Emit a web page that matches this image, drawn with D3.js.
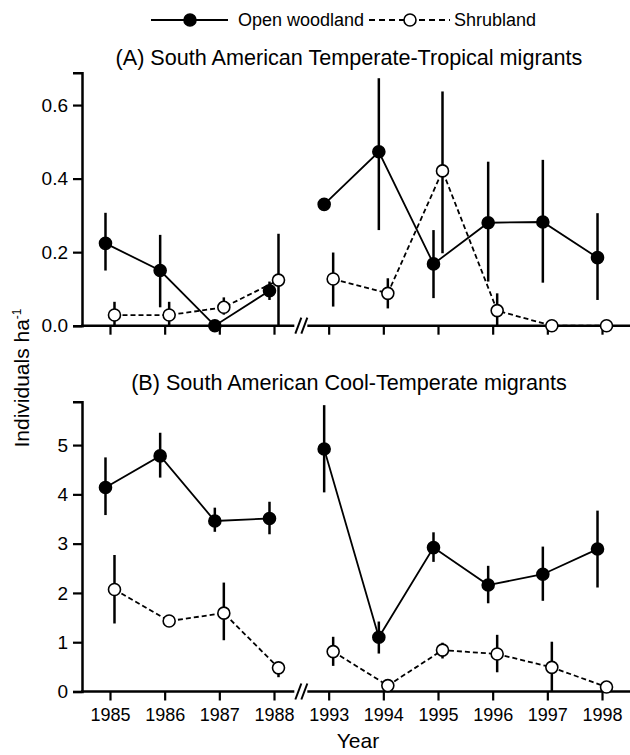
<!DOCTYPE html>
<html><head><meta charset="utf-8">
<script src="https://cdn.jsdelivr.net/npm/d3@7"></script>
<style>body{margin:0;background:#fff}svg{display:block}text{font-family:"Liberation Sans",Arial,sans-serif;fill:#000}</style>
</head><body><svg id="c" width="630" height="755"></svg>
<script>
const years = ["1985","1986","1987","1988","1993","1994","1995","1996","1997","1998"];
const seriesNames = ["Open woodland","Shrubland"];
const titles = ["(A) South American Temperate-Tropical migrants","(B) South American Cool-Temperate migrants"];
const ticksA = [0,0.2,0.4,0.6];
const ticksB = [0,1,2,3,4,5];

const A_wood    = [0.224,0.150,0.000,0.095,0.330,0.473,0.168,0.280,0.282,0.185];
const A_wood_lo = [0.150,0.050,null ,0.070,null ,0.260,0.075,0.120,0.117,0.070];
const A_wood_hi = [0.307,0.247,null ,0.120,null ,0.673,0.260,0.446,0.451,0.306];
const A_shrub    = [0.029,0.029,0.050,0.124,0.127,0.088,0.421,0.041,0.000,0.000];
const A_shrub_lo = [0.000,0.000,0.030,0.000,0.052,0.047,0.197,0.000,null ,null ];
const A_shrub_hi = [0.065,0.065,0.077,0.250,0.199,0.129,0.637,0.088,null ,null ];

const B_wood    = [4.14,4.78,3.46,3.51,4.92,1.10,2.92,2.16,2.38,2.89];
const B_wood_lo = [3.58,4.34,3.24,3.19,4.04,0.77,2.63,1.79,1.84,2.11];
const B_wood_hi = [4.75,5.25,3.73,3.85,5.81,1.42,3.23,2.55,2.94,3.67];
const B_shrub    = [2.07,1.43,1.59,0.48,0.81,0.12,0.84,0.76,0.49,0.09];
const B_shrub_lo = [1.38,1.38,1.04,0.29,0.52,null,0.67,0.39,0.00,null];
const B_shrub_hi = [2.77,1.50,2.21,0.59,1.11,null,0.99,1.15,1.01,null];

const svg = d3.select("#c");
const x = d3.scalePoint().domain(years).range([82,630]).padding(0.512);
const leftYears = years.slice(0,4), rightYears = years.slice(4);

const panels = [
  {top:72.7, bottom:325.7, max:0.688, ticks:ticksA, fmt:d3.format(".1f"), title:titles[0], titleY:65, labels:false,
   wood:A_wood, woodLo:A_wood_lo, woodHi:A_wood_hi, shrub:A_shrub, shrubLo:A_shrub_lo, shrubHi:A_shrub_hi},
  {top:401.7, bottom:691.5, max:5.88, ticks:ticksB, fmt:d3.format("d"), title:titles[1], titleY:390, labels:true,
   wood:B_wood, woodLo:B_wood_lo, woodHi:B_wood_hi, shrub:B_shrub, shrubLo:B_shrub_lo, shrubHi:B_shrub_hi}
];

const OFF = {wood:-4.5, shrub:4.5};
const R = 6;

panels.forEach(p => {
  const y = d3.scaleLinear().domain([0,p.max]).range([p.bottom,p.top]);
  const g = svg.append("g");
  g.append("text").attr("x",349).attr("y",p.titleY).attr("text-anchor","middle")
    .style("font-size","21.6px").text(p.title);
  const ya = g.append("g").attr("transform","translate(82,0)")
    .call(d3.axisLeft(y).tickValues(p.ticks).tickFormat(p.fmt).tickSizeOuter(0).tickSize(9).tickPadding(5));
  ya.select(".domain").attr("stroke-width",2.5).attr("stroke","#000");
  ya.selectAll(".tick line").attr("stroke-width",2.2);
  ya.selectAll(".tick text").style("font-size","19px").style("font-family","Liberation Sans, Arial, sans-serif");
  const xa = g.append("g").attr("transform",`translate(0,${p.bottom})`)
    .call(d3.axisBottom(x).tickSize(9).tickSizeOuter(0).tickPadding(8));
  xa.select(".domain").remove();
  xa.selectAll(".tick line").attr("stroke-width",2.2);
  xa.selectAll(".tick text").style("font-size","18px").style("font-family","Liberation Sans, Arial, sans-serif")
    .style("display", p.labels ? null : "none");
  const brk = (x(years[3]) + x(years[4]))/2;
  g.append("line").attr("x1",81).attr("x2",brk-7).attr("y1",p.bottom).attr("y2",p.bottom).attr("stroke","#000").attr("stroke-width",2.5);
  g.append("line").attr("x1",brk+6).attr("x2",630).attr("y1",p.bottom).attr("y2",p.bottom).attr("stroke","#000").attr("stroke-width",2.5);
  [-3,3].forEach(d => {
    g.append("line").attr("x1",brk+d-3).attr("x2",brk+d+3).attr("y1",p.bottom+8).attr("y2",p.bottom-8)
      .attr("stroke","#000").attr("stroke-width",2);
  });

  const series = [
    {key:"wood", v:p.wood, lo:p.woodLo, hi:p.woodHi, dash:null, fill:"#000"},
    {key:"shrub", v:p.shrub, lo:p.shrubLo, hi:p.shrubHi, dash:"5,3", fill:"#fff"}
  ];
  const line = d3.line().x(d=>d.x).y(d=>d.y);
  series.forEach(s => {
    years.forEach((yr,i) => {
      if (s.lo[i]===null || s.hi[i]===null) return;
      g.append("line").attr("x1",x(yr)+OFF[s.key]).attr("x2",x(yr)+OFF[s.key])
        .attr("y1",y(s.lo[i])).attr("y2",y(s.hi[i])).attr("stroke","#000").attr("stroke-width",2.5);
    });
  });
  series.forEach(s => {
    [leftYears, rightYears].forEach(seg => {
      const pts = seg.map(yr => ({x:x(yr)+OFF[s.key], y:y(s.v[years.indexOf(yr)])}));
      g.append("path").attr("d",line(pts)).attr("fill","none").attr("stroke","#000")
        .attr("stroke-width",1.8).attr("stroke-dasharray",s.dash);
    });
  });
  series.forEach(s => {
    g.selectAll(null).data(years).enter().append("circle")
      .attr("cx",yr=>x(yr)+OFF[s.key]).attr("cy",(yr,i)=>y(s.v[i])).attr("r",R)
      .attr("fill",s.fill).attr("stroke","#000").attr("stroke-width",1.6);
  });
});

const lg = svg.append("g");
lg.append("line").attr("x1",151).attr("x2",228).attr("y1",20).attr("y2",20).attr("stroke","#000").attr("stroke-width",1.8);
lg.append("circle").attr("cx",190).attr("cy",20).attr("r",R).attr("fill","#000").attr("stroke","#000").attr("stroke-width",1.6);
lg.append("text").attr("x",238).attr("y",26).style("font-size","18px").text(seriesNames[0]);
lg.append("line").attr("x1",369).attr("x2",450).attr("y1",20).attr("y2",20).attr("stroke","#000").attr("stroke-width",1.8).attr("stroke-dasharray","6,4");
lg.append("circle").attr("cx",410).attr("cy",20).attr("r",R).attr("fill","#fff").attr("stroke","#000").attr("stroke-width",1.6);
lg.append("text").attr("x",454).attr("y",26).style("font-size","18px").text(seriesNames[1]);

svg.append("text").attr("x",358).attr("y",748).attr("text-anchor","middle").style("font-size","21px").text("Year");
const yl = svg.append("text").attr("transform","translate(29,378) rotate(-90)").attr("text-anchor","middle").style("font-size","21px");
yl.append("tspan").text("Individuals ha");
yl.append("tspan").attr("dy",-8).style("font-size","12px").text("-1");
</script></body></html>
